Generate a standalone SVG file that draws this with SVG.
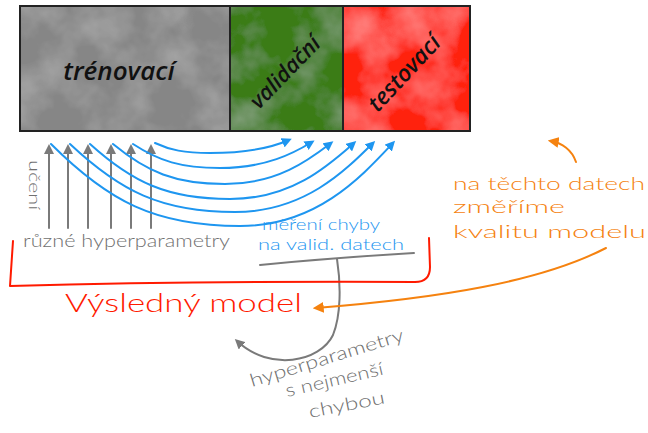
<svg xmlns="http://www.w3.org/2000/svg" width="648" height="433" viewBox="0 0 648 433">
<style>
.bar{font-family:"Open Sans","DejaVu Sans",sans-serif;font-style:italic;font-weight:600;fill:#111}
.hw{font-family:"Lato","Open Sans",sans-serif;font-weight:300}
.gray{fill:#707070}
.blue{fill:#1e96f0}
.orange{fill:#f5820f}
.red{fill:#ff1a00}
.bl{fill:none;stroke:#1e96f0;stroke-width:2;stroke-linecap:round}
.gl{fill:none;stroke:#7a7a7a;stroke-width:2;stroke-linecap:round}
.ol{fill:none;stroke:#f5820f;stroke-width:2;stroke-linecap:round}
</style>
<defs>
<filter id="tex" x="0" y="0" width="100%" height="100%">
<feTurbulence type="fractalNoise" baseFrequency="0.02" numOctaves="4" seed="7" result="n"/>
<feColorMatrix in="n" type="matrix" values="0 0 0 0 1  0 0 0 0 1  0 0 0 0 1  0.4 0 0 0 -0.16" result="w"/>
<feComposite in="w" in2="SourceGraphic" operator="in" result="wc"/>
<feMerge><feMergeNode in="SourceGraphic"/><feMergeNode in="wc"/></feMerge>
</filter>
<marker id="hb" viewBox="0 0 10 10" refX="7" refY="5" markerWidth="10" markerHeight="10" markerUnits="userSpaceOnUse" orient="auto"><path d="M0,0 L10,5 L0,10 z" fill="#1e96f0"/></marker>
<marker id="hg" viewBox="0 0 10 10" refX="7" refY="5" markerWidth="10" markerHeight="10" markerUnits="userSpaceOnUse" orient="auto"><path d="M0,0 L10,5 L0,10 z" fill="#7a7a7a"/></marker>
<marker id="ho" viewBox="0 0 10 10" refX="7" refY="5" markerWidth="11" markerHeight="11" markerUnits="userSpaceOnUse" orient="auto"><path d="M0,0 L10,5 L0,10 z" fill="#f5820f"/></marker>
</defs>
<rect width="648" height="433" fill="#fff"/>

<g id="trenovaci">
<rect x="20" y="6" width="210" height="125" fill="#868686" filter="url(#tex)"/>
<text class="bar" x="119" y="80" font-size="26" text-anchor="middle">trénovací</text>
</g>
<g id="validacni">
<rect x="230" y="6" width="113" height="125" fill="#3a7c12" filter="url(#tex)"/>
<text class="bar" transform="translate(285,72) rotate(-46)" font-size="22" text-anchor="middle" dy="0.35em">validační</text>
</g>
<g id="testovaci">
<rect x="343" y="6" width="127" height="125" fill="#ff2410" filter="url(#tex)"/>
<text class="bar" transform="translate(404,73) rotate(-47)" font-size="23" text-anchor="middle" dy="0.35em">testovací</text>
</g>
<g id="bar-frame" fill="none" stroke="#222" stroke-width="2">
<rect x="20" y="6" width="450" height="125"/>
<line x1="230" y1="6" x2="230" y2="131"/>
<line x1="343" y1="6" x2="343" y2="131"/>
</g>

<g id="connectors">
<g class="training-arrows">
<line class="gl" x1="49" y1="228" x2="49" y2="147" marker-end="url(#hg)"/>
<line class="gl" x1="68" y1="228" x2="68" y2="147" marker-end="url(#hg)"/>
<line class="gl" x1="88" y1="228" x2="88" y2="147" marker-end="url(#hg)"/>
<line class="gl" x1="111" y1="228" x2="111" y2="147" marker-end="url(#hg)"/>
<line class="gl" x1="131" y1="228" x2="131" y2="147" marker-end="url(#hg)"/>
<line class="gl" x1="151" y1="228" x2="151" y2="147" marker-end="url(#hg)"/>
</g>
<g class="validation-arrows">
<path class="bl" d="M51 144 C108 201 155 226 240 226 C317 226 362 176 393 143" marker-end="url(#hb)"/>
<path class="bl" d="M70 144 C120 191 161 212 235 212 C304 212 345 171 373 143" marker-end="url(#hb)"/>
<path class="bl" d="M90 144 C132 182 167 199 230 199 C292 199 329 165 354 143" marker-end="url(#hb)"/>
<path class="bl" d="M113 144 C147 172 175 184 225 184 C278 184 310 159 331 143" marker-end="url(#hb)"/>
<path class="bl" d="M133 144 C159 161 181 168 220 168 C266 168 294 153 312 142" marker-end="url(#hb)"/>
<path class="bl" d="M155 143 C170 150 184 153 210 153 C250 153 273 147 289 140" marker-end="url(#hb)"/>
</g>
<path class="gl" d="M260 265 Q330 258 414 253"/>
<path class="gl" d="M337 259 C341 285 341 315 333 335 C320 362 270 372 237 341" marker-end="url(#hg)"/>
<path d="M13 241 L10 286 Q200 281 415 282 Q430 282 430 267 L429 238" fill="none" stroke="#ff1a00" stroke-width="2" stroke-linecap="round" stroke-linejoin="round"/>
<path class="ol" d="M606 248 C540 282 440 298 316 308" marker-end="url(#ho)"/>
<path class="ol" d="M576 162 C572 150 562 143 551 141" marker-end="url(#ho)"/>
</g>

<g id="labels">
<text class="hw gray" transform="translate(29,160) rotate(90)" font-size="15" textLength="50" lengthAdjust="spacingAndGlyphs">učení</text>
<text class="hw gray" x="23" y="247" font-size="18" textLength="207" lengthAdjust="spacingAndGlyphs">různé hyperparametry</text>
<text class="hw blue" x="262" y="230" font-size="16" textLength="118" lengthAdjust="spacingAndGlyphs">měření chyby</text>
<text class="hw blue" x="258" y="250" font-size="16" textLength="146" lengthAdjust="spacingAndGlyphs">na valid. datech</text>
<text class="hw red" x="65" y="312" font-size="26" textLength="237" lengthAdjust="spacingAndGlyphs">Výsledný model</text>
<text class="hw orange" x="453" y="190" font-size="18" textLength="192" lengthAdjust="spacingAndGlyphs">na těchto datech</text>
<text class="hw orange" x="453" y="213" font-size="18" textLength="112" lengthAdjust="spacingAndGlyphs">změříme</text>
<text class="hw orange" x="453" y="238" font-size="18" textLength="193" lengthAdjust="spacingAndGlyphs">kvalitu modelu</text>
<text class="hw gray" transform="translate(252,387) rotate(-17)" font-size="18" textLength="160" lengthAdjust="spacingAndGlyphs">hyperparametry</text>
<text class="hw gray" transform="translate(287,397) rotate(-13)" font-size="18" textLength="100" lengthAdjust="spacingAndGlyphs">s nejmenší</text>
<text class="hw gray" transform="translate(310,418) rotate(-11)" font-size="18" textLength="77" lengthAdjust="spacingAndGlyphs">chybou</text>
</g>
</svg>
